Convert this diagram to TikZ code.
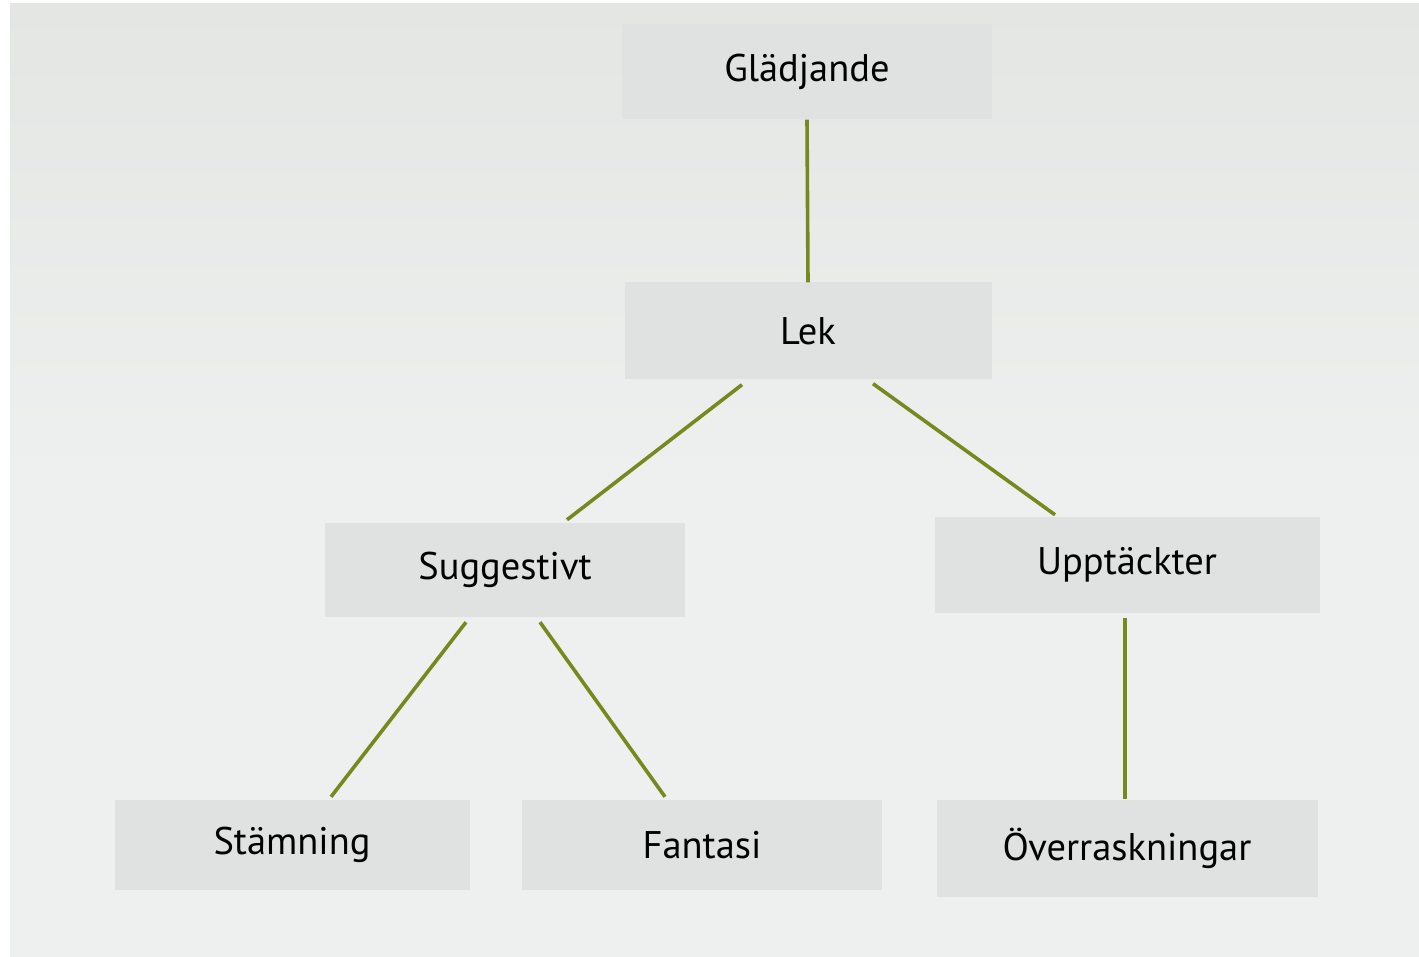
\documentclass[tikz,border=0pt]{standalone}
\usepackage{fontspec}
\setmainfont{PT Sans}
\usetikzlibrary{calc}
\definecolor{pagegray}{HTML}{EEF0EF}
\definecolor{pagetop}{HTML}{E4E6E4}
\definecolor{boxgray}{HTML}{E0E1E1}
\definecolor{olive}{HTML}{748A1E}
\tikzset{
  termbox/.style={fill=boxgray, draw=none, inner sep=0pt, font=\fontsize{38.5}{44}\selectfont, text=black},
  branch/.style={draw=olive, line width=3.6pt}
}
\begin{document}
\begin{tikzpicture}[x=1pt, y=-1pt]
  % page frame and paper
  \fill[white] (0,0) rectangle (1419,957);
  \shade[top color=pagetop, bottom color=pagegray, middle color=pagegray] (10,4) rectangle (1419,957);
  \useasboundingbox (0,0) rectangle (1419,957);

  % terms
  \node[termbox, minimum width=370pt, minimum height=95pt] (g) at (807,72) {Glädjande};
  \node[termbox, minimum width=367pt, minimum height=97pt] (lek) at (808,331) {Lek};
  \node[termbox, minimum width=360pt, minimum height=94pt] (sug) at (505,570) {Suggestivt};
  \node[termbox, minimum width=385pt, minimum height=96pt] (upp) at (1127,565) {Upptäckter};
  \node[termbox, minimum width=355pt, minimum height=90pt] (sta) at (292,845) {Stämning};
  \node[termbox, minimum width=360pt, minimum height=90pt] (fan) at (702,845) {Fantasi};
  \node[termbox, minimum width=381pt, minimum height=97pt] (ove) at (1127,848) {Överraskningar};

  % connectors
  \draw[branch] (g.south) -- (lek.north);
  \draw[branch] ($(lek.south)+(-66,5)$) -- ($(sug.north)+(62,-3)$);
  \draw[branch] ($(lek.south)+(65,4)$) -- ($(upp.north)+(-72,-2)$);
  \draw[branch] ($(sug.south)+(-39,5)$) -- ($(sta.north)+(39,-3)$);
  \draw[branch] ($(sug.south)+(35,5)$) -- ($(fan.north)+(-37,-3)$);
  \draw[branch] ($(upp.south)+(-2,5)$) -- ($(ove.north)+(-2,0)$);
\end{tikzpicture}
\end{document}
